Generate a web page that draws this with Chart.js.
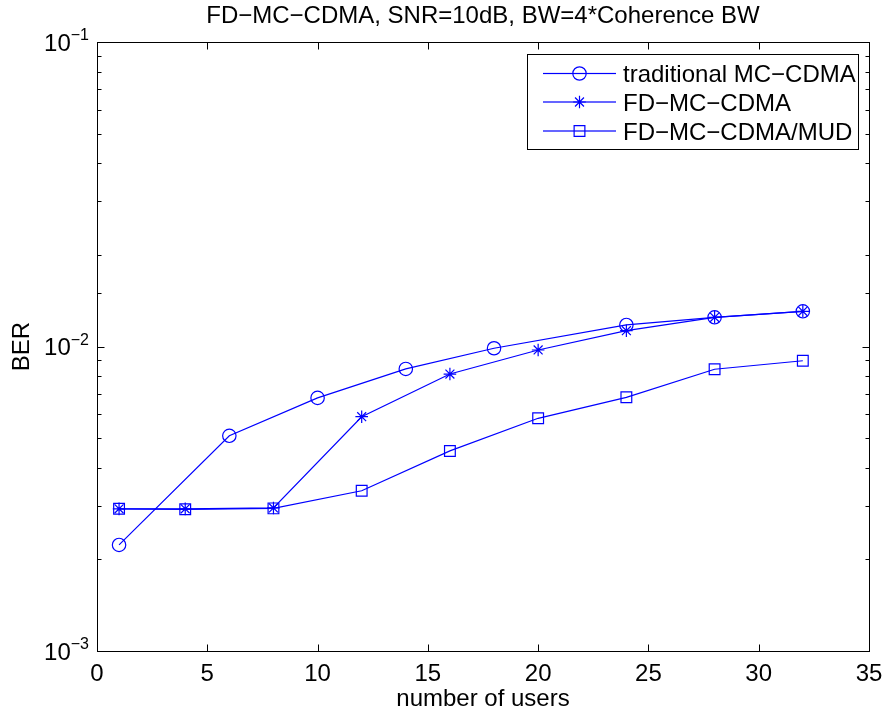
<!DOCTYPE html>
<html>
<head>
<meta charset="utf-8">
<script src="https://cdn.jsdelivr.net/npm/chart.js@4"></script>
<style>
  html, body { margin: 0; padding: 0; background: #fff; }
  #wrap { width: 885px; height: 713px; }
</style>
</head>
<body>
<div id="wrap"><canvas id="berChart" width="885" height="713"></canvas></div>
<script>
// data
const usersTrad = [1, 6, 10, 14, 18, 24, 28, 32];
const berTrad   = [0.00223, 0.00509, 0.00678, 0.00844, 0.00987, 0.01177, 0.01247, 0.01305];

const usersFd = [1, 4, 8, 12, 16, 20, 24, 28, 32];
const berFd   = [0.00293, 0.00293, 0.00295, 0.00588, 0.00812, 0.00974, 0.01127, 0.01247, 0.01305];

const usersMud = [1, 4, 8, 12, 16, 20, 24, 28, 32];
const berMud   = [0.00293, 0.00292, 0.00294, 0.00336, 0.00454, 0.00581, 0.00681, 0.00842, 0.00898];

const seriesNames = ['traditional MC\u2212CDMA', 'FD\u2212MC\u2212CDMA', 'FD\u2212MC\u2212CDMA/MUD'];
const xTickValues = [0, 5, 10, 15, 20, 25, 30, 35];
const yDecades = [-3, -2, -1];

const titleText = 'FD\u2212MC\u2212CDMA, SNR=10dB, BW=4*Coherence BW';
const xTitle = 'number of users';
const yTitle = 'BER';

const FONT = "'Liberation Sans', Arial, Helvetica, sans-serif";
const BLUE = '#0000ff';
const LW = 1.2;

const toPoints = (xs, ys) => xs.map((x, i) => ({ x: x, y: ys[i] }));

// ============================================================================
// MATLAB-like axes: boxed frame, inward ticks, superscript labels, legend
// ============================================================================

const matlabAxes = {
    id: 'matlabAxes',
    afterDraw(chart) {
        const ctx = chart.ctx;
        const area = chart.chartArea;
        const xs = chart.scales.x;
        const ys = chart.scales.y;
        const L = Math.round(area.left) + 0.5, R = Math.round(area.right) + 0.5;
        const T = Math.round(area.top) + 0.5, B = Math.round(area.bottom) + 0.5;

        ctx.save();
        ctx.strokeStyle = '#000';
        ctx.lineWidth = 1;

        // frame
        ctx.strokeRect(L, T, R - L, B - T);

        // x ticks (bottom and top)
        ctx.beginPath();
        xTickValues.forEach(v => {
            const px = Math.round(xs.getPixelForValue(v)) + 0.5;
            ctx.moveTo(px, B); ctx.lineTo(px, B - 7);
            ctx.moveTo(px, T); ctx.lineTo(px, T + 7);
        });
        // y ticks from the log scale (major on decades, minor otherwise)
        ys.ticks.forEach(t => {
            const lg = Math.log10(t.value);
            const major = Math.abs(lg - Math.round(lg)) < 1e-9;
            const len = major ? 7 : 4;
            const py = Math.round(ys.getPixelForValue(t.value)) + 0.5;
            ctx.moveTo(L, py); ctx.lineTo(L + len, py);
            ctx.moveTo(R, py); ctx.lineTo(R - len, py);
        });
        ctx.stroke();

        // x tick labels
        ctx.fillStyle = '#000';
        ctx.font = '24px ' + FONT;
        ctx.textAlign = 'center';
        ctx.textBaseline = 'alphabetic';
        xTickValues.forEach(v => {
            ctx.fillText(String(v), xs.getPixelForValue(v), 681);
        });

        // y tick labels 10^n
        yDecades.forEach(n => {
            const py = ys.getPixelForValue(Math.pow(10, n));
            const sup = '\u2212' + Math.abs(n);
            ctx.font = '16px ' + FONT;
            const supW = ctx.measureText(sup).width;
            const right = area.left - 8;
            ctx.textAlign = 'right';
            ctx.fillText(sup, right, py - 2);
            ctx.font = '24px ' + FONT;
            ctx.fillText('10', right - supW, py + 8.5);
        });

        // axis titles
        ctx.font = '24px ' + FONT;
        ctx.textAlign = 'center';
        ctx.fillText(xTitle, (area.left + area.right) / 2, 706);
        ctx.save();
        ctx.translate(29, (area.top + area.bottom) / 2);
        ctx.rotate(-Math.PI / 2);
        ctx.fillText(yTitle, 0, 0);
        ctx.restore();

        // chart title
        ctx.fillText(titleText, (area.left + area.right) / 2, 23);

        // legend box
        const bx = 527.5, by = 54.5, bw = 331, bh = 95;
        ctx.fillStyle = '#fff';
        ctx.fillRect(bx, by, bw, bh);
        ctx.strokeStyle = '#000';
        ctx.lineWidth = 1;
        ctx.strokeRect(bx, by, bw, bh);

        const rowsY = [73.5, 102, 131];
        chart.data.datasets.forEach((ds, i) => {
            const y = rowsY[i];
            // sample line
            ctx.fillStyle = BLUE;
            ctx.fillRect(543, y - LW / 2, 73, LW);
            // marker (unfilled, like the plot)
            ctx.strokeStyle = BLUE;
            ctx.fillStyle = 'rgba(0,0,0,0)';
            ctx.lineWidth = LW;
            Chart.helpers.drawPoint(ctx, {
                pointStyle: ds.pointStyle,
                rotation: 0,
                radius: ds.pointRadius,
                borderWidth: LW
            }, 579.5, y);
            // label
            ctx.fillStyle = '#000';
            ctx.font = '24px ' + FONT;
            ctx.textAlign = 'left';
            ctx.fillText(ds.label, 623, y + 8.5);
        });
        ctx.restore();
    }
};

const makeSet = (label, xs, ys, style, radius) => ({
    label: label,
    data: toPoints(xs, ys),
    borderColor: BLUE,
    borderWidth: LW,
    pointStyle: style,
    pointRadius: radius,
    pointHoverRadius: radius,
    pointBorderColor: BLUE,
    pointBackgroundColor: 'rgba(0,0,0,0)',
    pointBorderWidth: LW,
    showLine: true,
    fill: false,
    tension: 0
});

const datasets = [
    makeSet(seriesNames[0], usersTrad, berTrad, 'circle', 6.7),
    makeSet(seriesNames[1], usersFd, berFd, 'star', 6.3),
    makeSet(seriesNames[2], usersMud, berMud, 'rect', 7.6)
];

new Chart(document.getElementById('berChart'), {
    type: 'scatter',
    data: { datasets: datasets },
    options: {
        responsive: false,
        devicePixelRatio: 1,
        animation: false,
        layout: { padding: { left: 0, top: 42, right: 16, bottom: 0 } },
        plugins: {
            legend: { display: false },
            title: { display: false },
            tooltip: { enabled: false }
        },
        scales: {
            x: {
                type: 'linear',
                min: 0,
                max: 35,
                grid: { display: false },
                border: { display: false },
                ticks: { display: false, stepSize: 5 },
                afterFit: s => { s.height = 62; }
            },
            y: {
                type: 'logarithmic',
                min: 0.001,
                max: 0.1,
                grid: { display: false },
                border: { display: false },
                ticks: { display: false, autoSkip: false },
                afterFit: s => { s.width = 97; }
            }
        }
    },
    plugins: [matlabAxes]
});
</script>
</body>
</html>
